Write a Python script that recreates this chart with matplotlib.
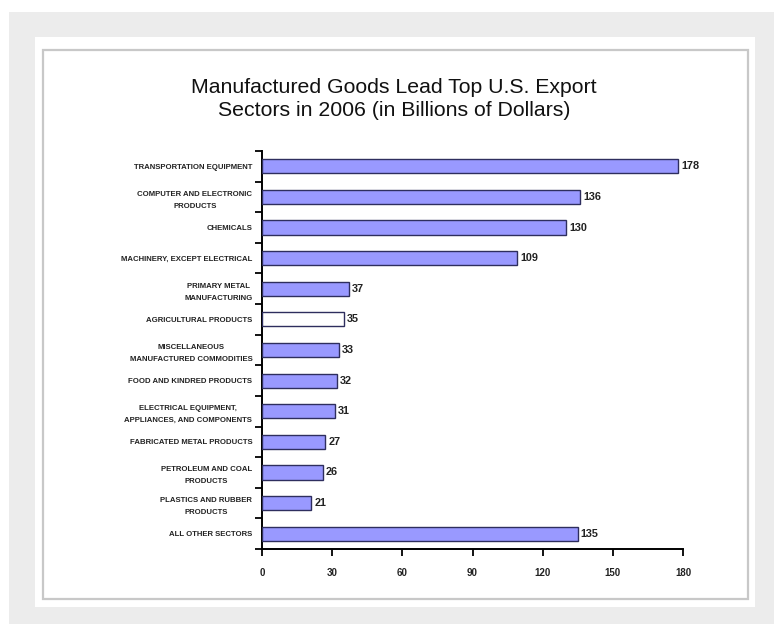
import matplotlib
matplotlib.use("Agg")
import matplotlib.pyplot as plt
from matplotlib.patches import Rectangle
from matplotlib import font_manager
import numpy as np

categories = [
    "TRANSPORTATION EQUIPMENT",
    "COMPUTER AND ELECTRONIC\nPRODUCTS",
    "CHEMICALS",
    "MACHINERY, EXCEPT ELECTRICAL",
    "PRIMARY METAL\nMANUFACTURING",
    "AGRICULTURAL PRODUCTS",
    "MISCELLANEOUS\nMANUFACTURED COMMODITIES",
    "FOOD AND KINDRED PRODUCTS",
    "ELECTRICAL EQUIPMENT,\nAPPLIANCES, AND COMPONENTS",
    "FABRICATED METAL PRODUCTS",
    "PETROLEUM AND COAL\nPRODUCTS",
    "PLASTICS AND RUBBER\nPRODUCTS",
    "ALL OTHER SECTORS",
]
values = [178, 136, 130, 109, 37, 35, 33, 32, 31, 27, 26, 21, 135]
highlight = "AGRICULTURAL PRODUCTS"
x_ticks = [0, 30, 60, 90, 120, 150, 180]
title = "Manufactured Goods Lead Top U.S. Export\nSectors in 2006 (in Billions of Dollars)"

W, H = 774, 624
fig = plt.figure(figsize=(W / 100, H / 100), dpi=100)
fig.patch.set_facecolor("white")


def px_rect(x0, y0, x1, y1, **kw):
    """Rectangle given in pixel coordinates with origin at top-left."""
    return Rectangle((x0 / W, 1 - y1 / H), (x1 - x0) / W, (y1 - y0) / H,
                     transform=fig.transFigure, **kw)


# page frame: grey surround, white panel, thin grey border
fig.patches.append(px_rect(9, 12, W, H, facecolor="#ececec", edgecolor="none", zorder=-3))
fig.patches.append(px_rect(35, 37, 755, 607, facecolor="white", edgecolor="none", zorder=-2))
fig.patches.append(px_rect(43, 50, 748, 599, facecolor="none", edgecolor="#c8c8c8",
                           linewidth=1.6, zorder=-1))

# prefer a condensed face for the title and numbers when one is available
installed = {f.name for f in font_manager.fontManager.ttflist}
narrow = [f for f in ["Liberation Sans Narrow", "Arial Narrow", "Liberation Sans"]
          if f in installed] + ["DejaVu Sans"]

fig.text(394 / W, 1 - 99 / H, title, ha="center", va="center", fontsize=15.3,
         family=narrow, linespacing=1.22, color="#111111", zorder=5)

left, right, top, bottom = 262, 683, 151, 549
ax = fig.add_axes([left / W, 1 - bottom / H, (right - left) / W, (bottom - top) / H])
ax.set_zorder(5)
ax.set_facecolor("white")

n = len(categories)
y = np.arange(n)
colors = ["white" if c == highlight else "#9999ff" for c in categories]
ax.barh(y, values, height=0.46, color=colors, edgecolor="#2e2e5e", linewidth=1.0, zorder=3)

for yi, v in zip(y, values):
    ax.text(v + 1.3, yi, str(v), va="center", ha="left", fontsize=7.8,
            fontweight="bold", family=narrow, color="#222222")

ax.set_xlim(0, 180)
ax.set_ylim(n - 0.5, -0.5)
ax.set_xticks(x_ticks)
ax.set_xticklabels([str(t) for t in x_ticks], fontsize=7, fontweight="bold",
                   family=narrow, color="#222222")
ax.set_yticks(y)
ax.set_yticklabels(categories, fontsize=5.6, fontweight="bold", color="#222222",
                   family=narrow)
for lab in ax.get_yticklabels():
    lab.set_multialignment("center")
    lab.set_linespacing(1.95)
ax.set_yticks(np.arange(n + 1) - 0.5, minor=True)
ax.tick_params(axis="y", which="major", length=0, pad=7)
ax.tick_params(axis="y", which="minor", length=5, width=1.3, direction="out", color="black")
ax.tick_params(axis="x", length=5, width=1.3, direction="out", pad=9, color="black")

for side in ["top", "right"]:
    ax.spines[side].set_visible(False)
for side in ["left", "bottom"]:
    ax.spines[side].set_linewidth(1.4)
    ax.spines[side].set_color("black")

fig.savefig("out.png", dpi=100, facecolor=fig.get_facecolor())
